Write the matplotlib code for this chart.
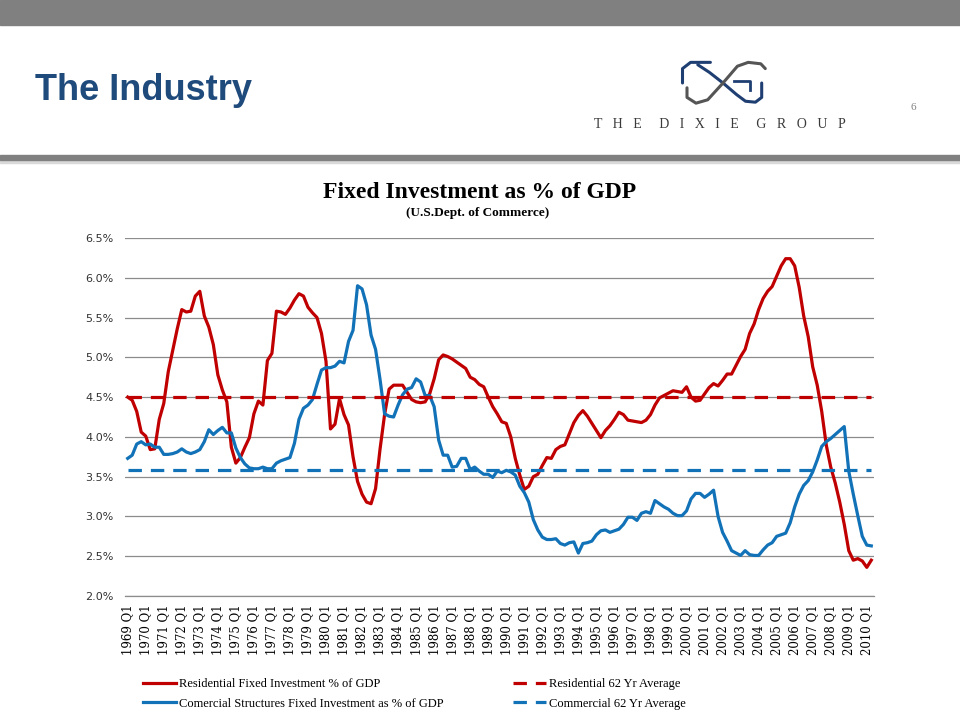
import matplotlib
matplotlib.use("Agg")
import matplotlib.pyplot as plt
from matplotlib.patches import Rectangle

# quarterly values, 1969 Q1 .. 2010 Q2
residential = [
    4.50, 4.46, 4.32, 4.06, 4.01, 3.84, 3.85, 4.22, 4.42, 4.82,
    5.09, 5.36, 5.60, 5.57, 5.58, 5.77, 5.83, 5.52, 5.38, 5.16,
    4.78, 4.59, 4.44, 3.87, 3.67, 3.74, 3.87, 3.99, 4.29, 4.45,
    4.40, 4.96, 5.05, 5.58, 5.57, 5.54, 5.62, 5.72, 5.80, 5.77,
    5.63, 5.56, 5.50, 5.30, 4.95, 4.10, 4.16, 4.48, 4.28, 4.15,
    3.75, 3.44, 3.28, 3.18, 3.16, 3.35, 3.85, 4.28, 4.60, 4.65,
    4.65, 4.65, 4.56, 4.47, 4.44, 4.43, 4.44, 4.54, 4.73, 4.97,
    5.03, 5.01, 4.98, 4.94, 4.90, 4.86, 4.75, 4.72, 4.66, 4.63,
    4.50, 4.38, 4.29, 4.19, 4.17, 4.00, 3.73, 3.52, 3.34, 3.38,
    3.50, 3.53, 3.64, 3.74, 3.73, 3.84, 3.88, 3.90, 4.04, 4.18,
    4.27, 4.33, 4.26, 4.17, 4.08, 3.99, 4.08, 4.14, 4.22, 4.31,
    4.28, 4.21, 4.20, 4.19, 4.18, 4.21, 4.28, 4.40, 4.49, 4.52,
    4.55, 4.58, 4.57, 4.56, 4.63, 4.50, 4.45, 4.46, 4.54, 4.62,
    4.67, 4.64, 4.71, 4.79, 4.79, 4.90, 5.01, 5.10, 5.30, 5.42,
    5.60, 5.74, 5.83, 5.89, 6.02, 6.15, 6.24, 6.24, 6.15, 5.88,
    5.52, 5.26, 4.88, 4.65, 4.32, 3.90, 3.62, 3.42, 3.18, 2.90,
    2.57, 2.45, 2.47, 2.44, 2.36, 2.45,
]
commercial = [
    3.73, 3.77, 3.91, 3.94, 3.90, 3.91, 3.87, 3.87, 3.78, 3.78,
    3.79, 3.81, 3.85, 3.81, 3.79, 3.81, 3.84, 3.94, 4.09, 4.03,
    4.08, 4.12, 4.05, 4.05, 3.86, 3.74, 3.66, 3.61, 3.60, 3.60,
    3.62, 3.60, 3.60, 3.67, 3.70, 3.72, 3.74, 3.92, 4.22, 4.36,
    4.40, 4.47, 4.66, 4.84, 4.87, 4.87, 4.89, 4.95, 4.93, 5.20,
    5.34, 5.90, 5.86, 5.66, 5.28, 5.10, 4.72, 4.29, 4.26, 4.25,
    4.40, 4.53, 4.60, 4.62, 4.73, 4.69, 4.52, 4.52, 4.38, 3.96,
    3.77, 3.77, 3.62, 3.63, 3.73, 3.73, 3.59, 3.62, 3.57, 3.53,
    3.53, 3.49, 3.57, 3.55, 3.58, 3.56, 3.52, 3.38, 3.30, 3.18,
    2.96, 2.83, 2.74, 2.71, 2.71, 2.72, 2.66, 2.64, 2.67, 2.68,
    2.54, 2.66, 2.67, 2.69, 2.77, 2.82, 2.83, 2.80, 2.82, 2.84,
    2.90, 2.99, 2.99, 2.95, 3.04, 3.06, 3.04, 3.20, 3.16, 3.12,
    3.09, 3.04, 3.01, 3.01, 3.07, 3.22, 3.29, 3.29, 3.24, 3.28,
    3.33, 3.00, 2.80, 2.69, 2.57, 2.54, 2.51, 2.57, 2.52, 2.51,
    2.51, 2.58, 2.64, 2.67, 2.75, 2.77, 2.79, 2.92, 3.12, 3.28,
    3.39, 3.45, 3.56, 3.71, 3.88, 3.94, 3.98, 4.03, 4.08, 4.13,
    3.57, 3.28, 3.01, 2.75, 2.64, 2.63,
]
res_avg = 4.50
com_avg = 3.59

years = list(range(1969, 2011))
tick_labels = [f"{y} Q1" for y in years]
y_ticks = [2.0, 2.5, 3.0, 3.5, 4.0, 4.5, 5.0, 5.5, 6.0, 6.5]

RED = "#C00000"
BLUE = "#1272B8"
GRID = "#8c8c8c"

fig = plt.figure(figsize=(9.6, 7.2), dpi=100)

def fy(px):
    return 1 - px / 720.0

# slide header
fig.patches.append(Rectangle((0, fy(25)), 1, 25 / 720, transform=fig.transFigure,
                             color="#808080", zorder=0))
fig.patches.append(Rectangle((0, fy(163)), 1, 4 / 720, transform=fig.transFigure,
                             color="#d9d9d9", zorder=0))
fig.patches.append(Rectangle((0, fy(160)), 1, 5 / 720, transform=fig.transFigure,
                             color="#808080", zorder=0))
fig.text(35 / 960, fy(90), "The Industry", fontsize=26, fontweight="bold",
         family="Liberation Sans", color="#1F4A7C", va="center", ha="left")
fig.text(913 / 960, fy(108), "6", fontsize=8, color="#808080", ha="center", va="center",
         family="Liberation Serif")
fig.text(720 / 960, fy(124), "T   H   E     D   I   X   I   E     G   R   O   U   P", fontsize=10,
         family="Liberation Serif", color="#3a3a3a", ha="center", va="center")

# rough logo mark
lg = fig.add_axes([678 / 960, fy(107), 90 / 960, 48 / 720])
lg.set_xlim(0, 1)
lg.set_ylim(0, 1)
lg.axis("off")
lg.plot([0.36, 0.14, 0.05, 0.05, 0.05], [0.93, 0.93, 0.80, 0.62, 0.50], color="#1F3F73", lw=2.2,
        solid_capstyle="round")
lg.plot([0.22, 0.35, 0.50, 0.65, 0.75, 0.86, 0.93, 0.93], [0.88, 0.72, 0.50, 0.26, 0.12, 0.10, 0.20, 0.50],
        color="#1F3F73", lw=2.2, solid_capstyle="round")
lg.plot([0.10, 0.10, 0.20, 0.33, 0.50, 0.66, 0.78, 0.92, 0.97], [0.40, 0.20, 0.08, 0.15, 0.50, 0.85, 0.93, 0.90, 0.80],
        color="#555555", lw=2.2, solid_capstyle="round")
lg.plot([0.62, 0.80, 0.80], [0.55, 0.55, 0.35], color="#1F3F73", lw=2.0)

# chart
ax = fig.add_axes([125 / 960, fy(596), 749 / 960, (596 - 238) / 720])
idx = list(range(len(residential)))
ax.plot(idx, residential, color=RED, lw=2.3, label="Residential Fixed Investment % of GDP", zorder=3)
ax.plot(idx, commercial, color=BLUE, lw=2.3,
        label="Comercial Structures Fixed Investment as % of GDP", zorder=3)
ax.plot(idx, [res_avg] * len(idx), color=RED, lw=2.3, dashes=(4.2, 2.8),
        label="Residential 62 Yr Average", zorder=4)
ax.plot(idx, [com_avg] * len(idx), color=BLUE, lw=2.3, dashes=(4.2, 2.8),
        label="Commercial 62 Yr Average", zorder=4)

ax.set_xlim(-0.6, len(idx) - 0.4)
ax.set_ylim(2.0, 6.5)
ax.set_yticks(y_ticks)
ax.set_yticklabels([f"{v:.1f}%" for v in y_ticks], fontsize=8, family="DejaVu Sans", color="#333333")
ax.set_xticks(list(range(0, len(idx), 4)))
ax.set_xticklabels(tick_labels, rotation=90, fontsize=8.5, family="DejaVu Serif")
ax.grid(axis="y", color=GRID, lw=0.9, zorder=1)
ax.tick_params(axis="y", length=0, pad=8)
ax.tick_params(axis="x", length=0, pad=6)
for s in ax.spines.values():
    s.set_visible(False)
ax.spines["bottom"].set_visible(True)
ax.spines["bottom"].set_color(GRID)
ax.spines["bottom"].set_linewidth(0.9)

fig.text(480 / 960, fy(192), "Fixed Investment as % of GDP", fontsize=17, fontweight="bold",
         family="Liberation Serif", ha="center", va="center")
fig.text(478 / 960, fy(213), "(U.S.Dept. of Commerce)", fontsize=9.5, fontweight="bold",
         family="Liberation Serif", ha="center", va="center")

h, l = ax.get_legend_handles_labels()
leg_kw = dict(frameon=False, prop={"family": "Liberation Serif", "size": 9},
              handlelength=2.6, handletextpad=0.25, labelspacing=0.62, borderaxespad=0, borderpad=0)
fig.legend([h[0], h[1]], [l[0], l[1]], loc="upper left",
           bbox_to_anchor=(143 / 960, fy(678)), **leg_kw)
fig.legend([h[2], h[3]], [l[2], l[3]], loc="upper left",
           bbox_to_anchor=(513 / 960, fy(678)), **leg_kw)

fig.savefig("out.png", dpi=100)
